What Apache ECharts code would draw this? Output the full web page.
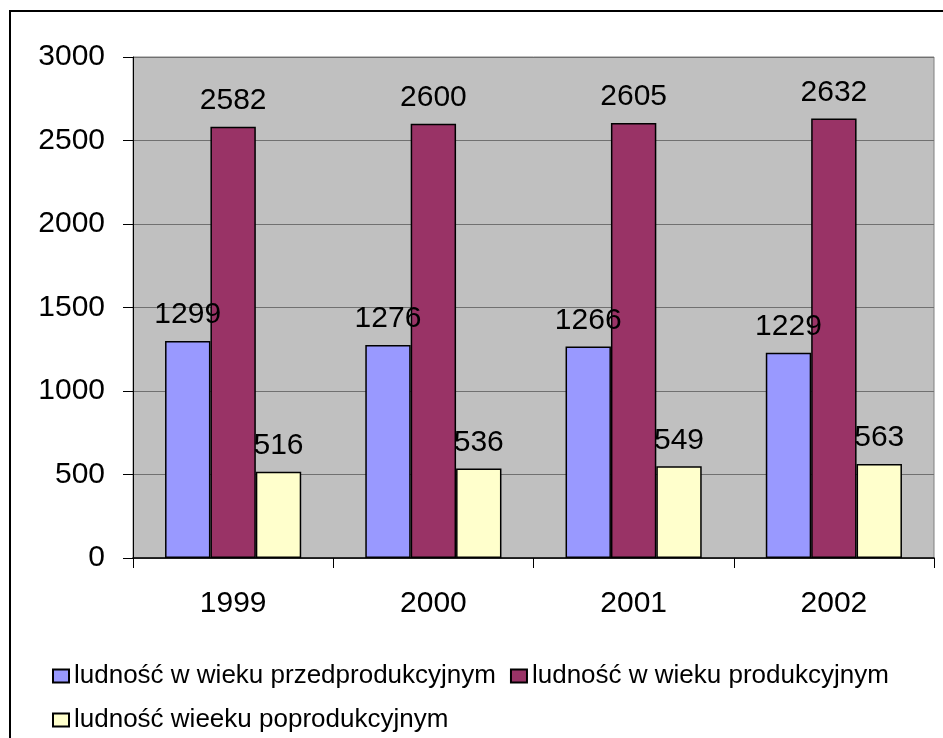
<!DOCTYPE html>
<html>
<head>
<meta charset="utf-8">
<script src="https://cdn.jsdelivr.net/npm/echarts@6/dist/echarts.min.js"></script>
<style>
  html, body { margin: 0; padding: 0; background: #fff; }
  #chart { width: 943px; height: 738px; }
</style>
</head>
<body>
<div id="chart"></div>
<script>
const years = ['1999', '2000', '2001', '2002']
const seriesNames = [
  'ludność w wieku przedprodukcyjnym',
  'ludność w wieku produkcyjnym',
  'ludność wieeku poprodukcyjnym'
]
const preWorking = [1299, 1276, 1266, 1229]
const working = [2582, 2600, 2605, 2632]
const postWorking = [516, 536, 549, 563]
const colors = ['#9999ff', '#993366', '#ffffcc']

const font = '"Liberation Sans", Arial, sans-serif'

const chart = echarts.init(document.getElementById('chart'))

const makeSeries = (name, data, color) => ({
  name,
  type: 'bar',
  data,
  barGap: '0%',
  barCategoryGap: '32%',
  itemStyle: { color, borderColor: '#000', borderWidth: 1.5 },
  label: {
    show: true,
    position: 'top',
    distance: 11,
    color: '#000',
    fontSize: 30,
    fontFamily: font
  },
  emphasis: { disabled: true }
})

const legendText = { fontSize: 26, color: '#000', fontFamily: font, padding: [0, 0, 0, 0] }

chart.setOption({
  animation: false,
  textStyle: { fontFamily: font },
  graphic: [{
    type: 'rect',
    shape: { x: 10, y: 11, width: 1000, height: 1000 },
    style: { fill: 'none', stroke: '#000', lineWidth: 2 },
    silent: true
  }],
  grid: {
    left: 133, top: 57, right: 9, bottom: 180,
    show: true,
    backgroundColor: '#c0c0c0',
    borderColor: '#808080',
    borderWidth: 1
  },
  legend: [
    {
      data: seriesNames.slice(0, 2),
      left: 47, top: 658,
      itemWidth: 16, itemHeight: 13, itemGap: 14,
      icon: 'rect',
      textStyle: legendText
    },
    {
      data: seriesNames.slice(2),
      left: 47, top: 702,
      itemWidth: 16, itemHeight: 13,
      icon: 'rect',
      textStyle: legendText
    }
  ],
  xAxis: {
    type: 'category',
    data: years,
    axisLine: { lineStyle: { color: '#000', width: 1.5 } },
    axisTick: { show: true, length: 10, lineStyle: { color: '#000' } },
    axisLabel: { fontSize: 30, color: '#000', margin: 31, fontFamily: font }
  },
  yAxis: {
    type: 'value',
    min: 0,
    max: 3000,
    interval: 500,
    axisLine: { show: true, lineStyle: { color: '#000' } },
    axisTick: { show: true, length: 10, lineStyle: { color: '#000' } },
    axisLabel: {
      fontSize: 30, color: '#000', margin: 28, fontFamily: font,
      formatter: (v) => String(v)
    },
    splitLine: { lineStyle: { color: '#707070', width: 1.2 } }
  },
  series: [
    makeSeries(seriesNames[0], preWorking, colors[0]),
    makeSeries(seriesNames[1], working, colors[1]),
    makeSeries(seriesNames[2], postWorking, colors[2])
  ]
})
</script>
</body>
</html>
